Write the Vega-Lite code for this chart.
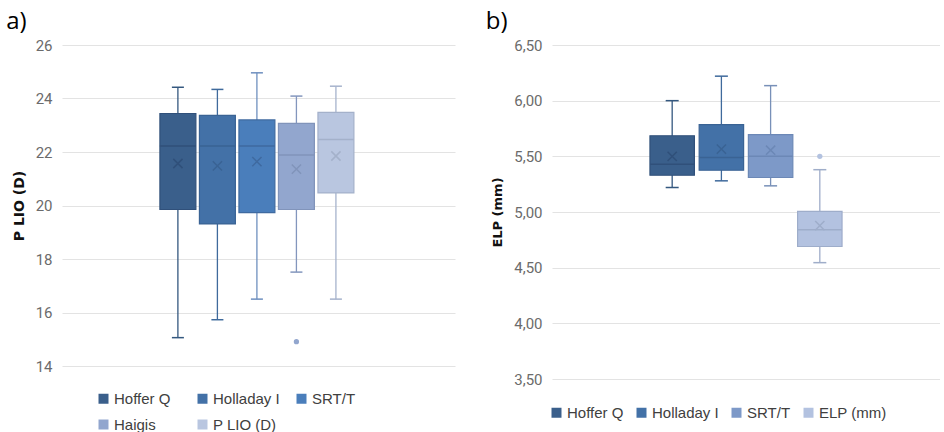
{
  "$schema": "https://vega.github.io/schema/vega-lite/v6.json",
  "background": "white",
  "padding": {"left": 6, "top": 10, "right": 0, "bottom": 0},
  "spacing": 30,
  "datasets": {
    "plio": [
      {"medida": "P LIO (D)", "grupo": "Hoffer Q", "min": 15.06, "q1": 19.85, "mediana": 22.22, "q3": 23.44, "max": 24.42, "media": 21.57},
      {"medida": "P LIO (D)", "grupo": "Holladay I", "min": 15.73, "q1": 19.31, "mediana": 22.22, "q3": 23.37, "max": 24.34, "media": 21.48},
      {"medida": "P LIO (D)", "grupo": "SRT/T", "min": 16.5, "q1": 19.73, "mediana": 22.22, "q3": 23.2, "max": 24.96, "media": 21.64},
      {"medida": "P LIO (D)", "grupo": "Haigis", "min": 17.51, "q1": 19.85, "mediana": 21.89, "q3": 23.07, "max": 24.09, "media": 21.36},
      {"medida": "P LIO (D)", "grupo": "P LIO (D)", "min": 16.5, "q1": 20.47, "mediana": 22.47, "q3": 23.48, "max": 24.46, "media": 21.85}
    ],
    "plio_atipicos": [
      {"medida": "P LIO (D)", "grupo": "Haigis", "valor": 14.91}
    ],
    "elp": [
      {"medida": "ELP (mm)", "grupo": "Hoffer Q", "min": 5.22, "q1": 5.33, "mediana": 5.43, "q3": 5.685, "max": 6.0, "media": 5.5},
      {"medida": "ELP (mm)", "grupo": "Holladay I", "min": 5.28, "q1": 5.375, "mediana": 5.49, "q3": 5.785, "max": 6.22, "media": 5.565},
      {"medida": "ELP (mm)", "grupo": "SRT/T", "min": 5.235, "q1": 5.31, "mediana": 5.5, "q3": 5.695, "max": 6.135, "media": 5.555},
      {"medida": "ELP (mm)", "grupo": "ELP (mm)", "min": 4.545, "q1": 4.69, "mediana": 4.84, "q3": 5.005, "max": 5.38, "media": 4.877}
    ],
    "elp_atipicos": [
      {"medida": "ELP (mm)", "grupo": "ELP (mm)", "valor": 5.5}
    ]
  },
  "config": {
    "view": {"stroke": null},
    "tick": {"opacity": 1},
    "axisY": {
      "domain": false,
      "ticks": false,
      "grid": true,
      "gridColor": "#e3e3e3",
      "gridWidth": 1,
      "labelFont": "Roboto",
      "labelFontSize": 15,
      "labelColor": "#6b6b6b",
      "labelPadding": 10,
      "titleFont": "DejaVu Sans",
      "titleFontSize": 14,
      "titleFontWeight": "bold",
      "titleColor": "#111111",
      "titlePadding": 9
    },
    "legend": {
      "labelFont": "Liberation Sans",
      "labelFontSize": 15,
      "labelColor": "#404040",
      "symbolType": "square",
      "symbolSize": 100,
      "symbolStrokeWidth": 0,
      "labelOffset": 3,
      "rowPadding": 10,
      "columnPadding": 10,
      "orient": "none",
      "direction": "horizontal"
    },
    "title": {
      "font": "Open Sans",
      "fontSize": 24,
      "fontWeight": "normal",
      "color": "#000000",
      "anchor": "start",
      "frame": "bounds"
    }
  },
  "resolve": {
    "scale": {"x": "independent", "xOffset": "independent", "y": "independent", "fill": "independent", "stroke": "independent", "color": "independent"},
    "legend": {"fill": "independent"}
  },
  "hconcat": [
    {
      "title": {"text": "a)", "dx": -6},
      "width": 393,
      "height": 321,
      "data": {"name": "plio"},
      "encoding": {
        "x": {
          "field": "medida", "type": "nominal", "axis": null,
          "scale": {"paddingInner": 0, "paddingOuter": 0.513, "align": 0.492}
        },
        "xOffset": {
          "field": "grupo", "type": "nominal",
          "sort": ["Hoffer Q", "Holladay I", "SRT/T", "Haigis", "P LIO (D)"],
          "scale": {"paddingInner": 0.09, "paddingOuter": 0}
        }
      },
      "layer": [
        {
          "mark": {"type": "rule", "strokeWidth": 1.3},
          "encoding": {
            "y": {"field": "min", "type": "quantitative",
              "scale": {"domain": [14, 26], "nice": false, "zero": false},
              "axis": {"title": "P LIO (D)", "values": [14, 16, 18, 20, 22, 24, 26]}},
            "y2": {"field": "max"},
            "color": {"field": "grupo", "type": "nominal", "legend": null,
              "sort": ["Hoffer Q", "Holladay I", "SRT/T", "Haigis", "P LIO (D)"],
              "scale": {"range": ["#34587f", "#3f6a9c", "#6e8fbf", "#8396bd", "#a6b3cc"]}}
          }
        },
        {
          "mark": {"type": "tick", "size": 12, "thickness": 1.5},
          "encoding": {
            "y": {"field": "min", "type": "quantitative"},
            "color": {"field": "grupo", "type": "nominal", "legend": null,
              "sort": ["Hoffer Q", "Holladay I", "SRT/T", "Haigis", "P LIO (D)"]}
          }
        },
        {
          "mark": {"type": "tick", "size": 12, "thickness": 1.5},
          "encoding": {
            "y": {"field": "max", "type": "quantitative"},
            "color": {"field": "grupo", "type": "nominal", "legend": null,
              "sort": ["Hoffer Q", "Holladay I", "SRT/T", "Haigis", "P LIO (D)"]}
          }
        },
        {
          "mark": {"type": "bar", "strokeWidth": 1.2},
          "encoding": {
            "y": {"field": "q1", "type": "quantitative"},
            "y2": {"field": "q3"},
            "fill": {"field": "grupo", "type": "nominal",
              "scale": {"domain": ["Hoffer Q", "Holladay I", "SRT/T", "Haigis", "P LIO (D)"],
                "range": ["#3a5f8b", "#4371a7", "#4a7ebb", "#92a6ce", "#b9c6e0"]},
              "legend": {"title": null, "columns": 3, "gridAlign": "all", "columnPadding": 14, "legendX": 34, "legendY": 346}},
            "stroke": {"field": "grupo", "type": "nominal", "legend": null,
              "sort": ["Hoffer Q", "Holladay I", "SRT/T", "Haigis", "P LIO (D)"],
              "scale": {"range": ["#30507a", "#3a6394", "#3f6aa0", "#8194ba", "#a4b1ca"]}}
          }
        },
        {
          "mark": {"type": "tick", "size": 36, "thickness": 0, "strokeWidth": 1.5},
          "encoding": {
            "y": {"field": "mediana", "type": "quantitative"},
            "stroke": {"field": "grupo", "type": "nominal", "legend": null,
              "sort": ["Hoffer Q", "Holladay I", "SRT/T", "Haigis", "P LIO (D)"]}
          }
        },
        {
          "mark": {"type": "point", "shape": "M-1,-1L1,1M-1,1L1,-1", "size": 85, "filled": false, "strokeWidth": 1.5, "opacity": 1},
          "encoding": {
            "y": {"field": "media", "type": "quantitative"},
            "stroke": {"field": "grupo", "type": "nominal", "legend": null,
              "sort": ["Hoffer Q", "Holladay I", "SRT/T", "Haigis", "P LIO (D)"]}
          }
        },
        {
          "data": {"name": "plio_atipicos"},
          "mark": {"type": "circle", "size": 28, "opacity": 1},
          "encoding": {
            "y": {"field": "valor", "type": "quantitative"},
            "fill": {"field": "grupo", "type": "nominal"}
          }
        }
      ]
    },
    {
      "title": {"text": "b)", "dx": -6},
      "width": 388,
      "height": 334,
      "data": {"name": "elp"},
      "encoding": {
        "x": {
          "field": "medida", "type": "nominal", "axis": null,
          "scale": {"paddingInner": 0, "paddingOuter": 0.51, "align": 0.5}
        },
        "xOffset": {
          "field": "grupo", "type": "nominal",
          "sort": ["Hoffer Q", "Holladay I", "SRT/T", "ELP (mm)"],
          "scale": {"paddingInner": 0.097, "paddingOuter": 0}
        }
      },
      "layer": [
        {
          "mark": {"type": "rule", "strokeWidth": 1.3},
          "encoding": {
            "y": {"field": "min", "type": "quantitative",
              "scale": {"domain": [3.5, 6.5], "nice": false, "zero": false},
              "axis": {"title": "ELP (mm)", "titleFontSize": 13, "values": [3.5, 4, 4.5, 5, 5.5, 6, 6.5],
                "labelExpr": "replace(format(datum.value, '.2f'), '.', ',')"}},
            "y2": {"field": "max"},
            "color": {"field": "grupo", "type": "nominal", "legend": null,
              "sort": ["Hoffer Q", "Holladay I", "SRT/T", "ELP (mm)"],
              "scale": {"range": ["#34587f", "#3f6a9c", "#7890b8", "#9fadc9"]}}
          }
        },
        {
          "mark": {"type": "tick", "size": 13, "thickness": 1.5},
          "encoding": {
            "y": {"field": "min", "type": "quantitative"},
            "color": {"field": "grupo", "type": "nominal", "legend": null,
              "sort": ["Hoffer Q", "Holladay I", "SRT/T", "ELP (mm)"]}
          }
        },
        {
          "mark": {"type": "tick", "size": 13, "thickness": 1.5},
          "encoding": {
            "y": {"field": "max", "type": "quantitative"},
            "color": {"field": "grupo", "type": "nominal", "legend": null,
              "sort": ["Hoffer Q", "Holladay I", "SRT/T", "ELP (mm)"]}
          }
        },
        {
          "mark": {"type": "bar", "strokeWidth": 1.2},
          "encoding": {
            "y": {"field": "q1", "type": "quantitative"},
            "y2": {"field": "q3"},
            "fill": {"field": "grupo", "type": "nominal",
              "scale": {"domain": ["Hoffer Q", "Holladay I", "SRT/T", "ELP (mm)"],
                "range": ["#3a5f8b", "#4371a7", "#7d99c8", "#b3c2e0"]},
              "legend": {"title": null, "columns": 4, "legendX": -3, "legendY": 360}},
            "stroke": {"field": "grupo", "type": "nominal", "legend": null,
              "sort": ["Hoffer Q", "Holladay I", "SRT/T", "ELP (mm)"],
              "scale": {"range": ["#30507a", "#3a6394", "#6c88b6", "#9eadca"]}}
          }
        },
        {
          "mark": {"type": "tick", "size": 44, "thickness": 0, "strokeWidth": 1.5},
          "encoding": {
            "y": {"field": "mediana", "type": "quantitative"},
            "stroke": {"field": "grupo", "type": "nominal", "legend": null,
              "sort": ["Hoffer Q", "Holladay I", "SRT/T", "ELP (mm)"]}
          }
        },
        {
          "mark": {"type": "point", "shape": "M-1,-1L1,1M-1,1L1,-1", "size": 85, "filled": false, "strokeWidth": 1.5, "opacity": 1},
          "encoding": {
            "y": {"field": "media", "type": "quantitative"},
            "stroke": {"field": "grupo", "type": "nominal", "legend": null,
              "sort": ["Hoffer Q", "Holladay I", "SRT/T", "ELP (mm)"]}
          }
        },
        {
          "data": {"name": "elp_atipicos"},
          "mark": {"type": "circle", "size": 28, "opacity": 1},
          "encoding": {
            "y": {"field": "valor", "type": "quantitative"},
            "fill": {"field": "grupo", "type": "nominal"}
          }
        }
      ]
    }
  ]
}
